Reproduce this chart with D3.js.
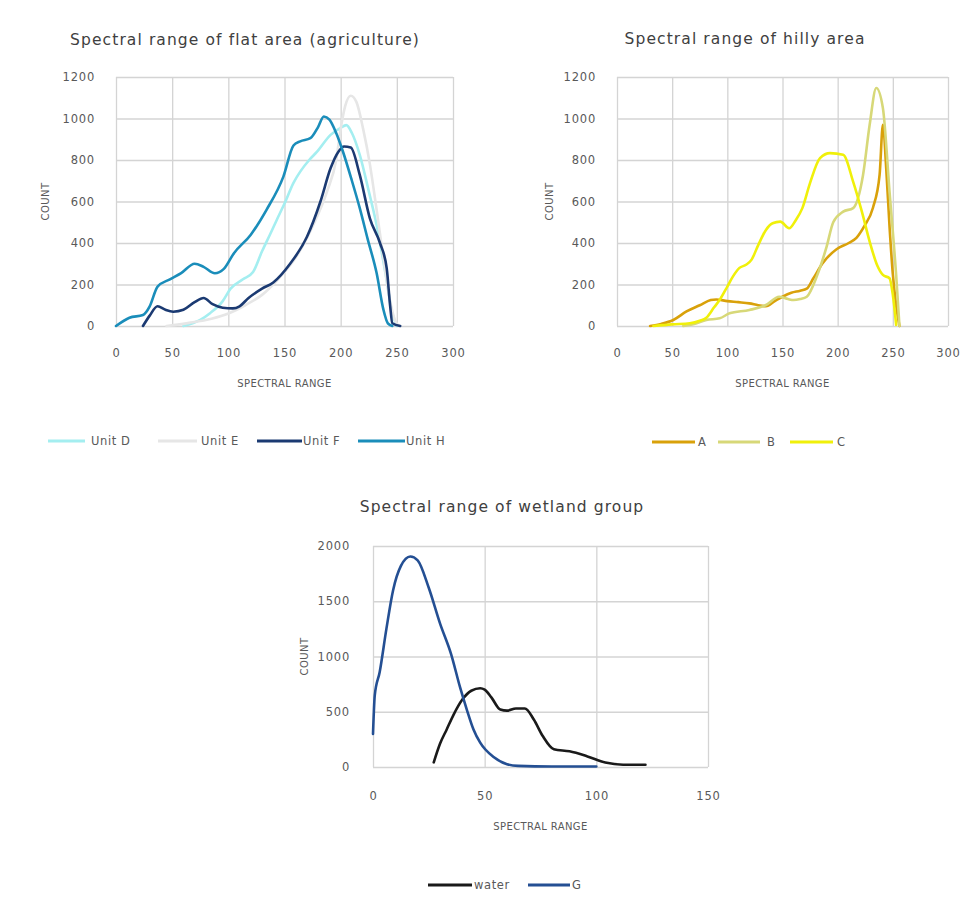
<!DOCTYPE html>
<html>
<head>
<meta charset="utf-8">
<script src="https://cdn.jsdelivr.net/npm/d3@7"></script>
<style>
  html, body { margin: 0; padding: 0; background: #ffffff; }
  svg { display: block; }
  text { font-family: "DejaVu Sans", Verdana, sans-serif; }
</style>
</head>
<body>
<svg id="chart" width="977" height="909"></svg>
<script>
// ---- Flat area (agriculture): [spectral value, count]
const unitD = [[60,0],[75,30],[84,63],[95,120],[102,180],[113,225],[122,260],[130,360],[137,440],[143,510],[150,590],[158,690],[164,744],[172,800],[179,840],[191,921],[200,955],[205,968],[210,930],[217,825],[225,650],[232,487],[240,250],[246,60],[250,0]];
const unitE = [[45,0],[65,15],[85,35],[100,60],[115,100],[130,150],[145,230],[160,330],[175,480],[188,650],[196,800],[200,950],[204,1060],[209,1110],[214,1080],[220,950],[226,780],[232,560],[238,330],[244,120],[250,10],[253,0]];
const unitF = [[24,0],[30,50],[37,95],[44,78],[51,69],[60,78],[70,115],[78,135],[86,105],[95,88],[104,85],[110,95],[118,135],[130,180],[140,210],[155,300],[170,430],[182,600],[191,760],[198,840],[203,865],[209,860],[217,728],[226,519],[235,400],[241,278],[244,100],[246,13],[253,0]];
const unitH = [[0,0],[12,40],[24,53],[30,95],[37,190],[48,225],[58,255],[70,300],[78,285],[88,254],[96,275],[105,351],[120,440],[134,560],[149,720],[158,870],[164,890],[173,905],[180,960],[185,1010],[190,995],[196,930],[202,841],[210,700],[217,568],[224,420],[232,255],[238,80],[242,13],[246,0]];

// ---- Hilly area
const hillA = [[30,0],[40,10],[51,29],[63,70],[75,100],[85,125],[90,128],[100,120],[110,115],[120,109],[128,100],[135,95],[143,120],[150,141],[158,160],[166,170],[172,180],[178,230],[186,300],[199,370],[210,400],[217,425],[224,480],[232,570],[238,728],[241,970],[244,760],[247,480],[250,250],[253,100],[256,0]];
const hillB = [[60,0],[70,10],[81,29],[93,37],[102,61],[120,77],[135,101],[147,141],[155,130],[160,125],[166,130],[172,141],[181,238],[190,383],[196,500],[205,551],[214,568],[223,728],[229,970],[235,1147],[241,1050],[247,648],[253,246],[256,0]];
const hillC = [[33,0],[50,8],[66,13],[75,25],[81,40],[88,90],[93,125],[100,190],[105,238],[111,280],[117,295],[122,320],[128,390],[135,463],[141,495],[148,503],[156,471],[162,510],[168,568],[175,690],[184,809],[193,833],[205,825],[214,696],[222,550],[229,407],[236,290],[241,246],[247,230],[250,150],[253,5]];

// ---- Wetland group
const water = [[27.2,42],[30,210],[33,340],[36,470],[40,610],[44,690],[48,712],[50,700],[53,630],[57,520],[60,510],[64,530],[68,530],[72,430],[76,280],[81,160],[88,142],[96,96],[104,40],[112,21],[122,21]];
const groupG = [[0,300],[0.8,650],[3,860],[6,1250],[9,1600],[12.5,1820],[16.7,1905],[20,1870],[25,1620],[30,1300],[35,1020],[39,720],[42,520],[45,340],[48,220],[54,90],[60,25],[65,10],[80,5],[100,5]];

// ---- Axis ticks
const flatXTicks = [0, 50, 100, 150, 200, 250, 300];
const flatYTicks = [0, 200, 400, 600, 800, 1000, 1200];
const wetXTicks = [0, 50, 100, 150];
const wetYTicks = [0, 500, 1000, 1500, 2000];

const svg = d3.select("#chart");
const textColor = "#595959";
const gridColor = "#d4d4d4";

function drawPanel(cfg) {
  const g = svg.append("g");
  const x = d3.scaleLinear().domain([cfg.xTicks[0], cfg.xTicks[cfg.xTicks.length - 1]]).range([cfg.left, cfg.right]);
  const y = d3.scaleLinear().domain([cfg.yTicks[0], cfg.yTicks[cfg.yTicks.length - 1]]).range([cfg.bottom, cfg.top]);

  // gridlines
  g.append("g")
    .attr("transform", `translate(0,${cfg.bottom})`)
    .call(d3.axisBottom(x).tickValues(cfg.xTicks).tickSize(-(cfg.bottom - cfg.top)).tickFormat(""))
    .call(a => a.select(".domain").remove())
    .call(a => a.selectAll("line").attr("stroke", gridColor).attr("stroke-width", 1.3));
  g.append("g")
    .attr("transform", `translate(${cfg.left},0)`)
    .call(d3.axisLeft(y).tickValues(cfg.yTicks).tickSize(-(cfg.right - cfg.left)).tickFormat(""))
    .call(a => a.select(".domain").remove())
    .call(a => a.selectAll("line").attr("stroke", gridColor).attr("stroke-width", 1.3));

  // tick labels
  g.append("g")
    .attr("transform", `translate(0,${cfg.bottom + cfg.xLabelGap})`)
    .call(d3.axisBottom(x).tickValues(cfg.xTicks).tickSize(0).tickFormat(d3.format("d")))
    .call(a => a.select(".domain").remove())
    .call(a => a.selectAll("text").attr("fill", textColor).attr("font-size", 11.5)
      .style("letter-spacing", "0.8px").attr("font-family", "DejaVu Sans"));
  g.append("g")
    .attr("transform", `translate(${cfg.left - cfg.yLabelGap},0)`)
    .call(d3.axisLeft(y).tickValues(cfg.yTicks).tickSize(0).tickFormat(d3.format("d")))
    .call(a => a.select(".domain").remove())
    .call(a => a.selectAll("text").attr("fill", textColor).attr("font-size", 11.5)
      .style("letter-spacing", "0.8px").attr("font-family", "DejaVu Sans"));

  // series
  const line = d3.line().x(d => x(d[0])).y(d => y(d[1])).curve(d3.curveMonotoneX);
  cfg.series.forEach(s => {
    g.append("path")
      .attr("d", line(s.data))
      .attr("fill", "none")
      .attr("stroke", s.color)
      .attr("stroke-width", 2.6)
      .attr("stroke-linejoin", "round")
      .attr("stroke-linecap", "round");
  });

  // titles
  g.append("text")
    .attr("x", cfg.titleX).attr("y", cfg.titleY)
    .attr("text-anchor", "middle")
    .attr("font-size", 15.5).style("letter-spacing", "1.1px")
    .attr("fill", "#404040")
    .text(cfg.title);
  g.append("text")
    .attr("x", (cfg.left + cfg.right) / 2).attr("y", cfg.bottom + cfg.xTitleGap)
    .attr("text-anchor", "middle")
    .attr("font-size", 10).style("letter-spacing", "0.4px")
    .attr("fill", textColor)
    .text("SPECTRAL RANGE");
  g.append("text")
    .attr("transform", `translate(${cfg.countX},${(cfg.top + cfg.bottom) / 2}) rotate(-90)`)
    .attr("text-anchor", "middle")
    .attr("font-size", 10).style("letter-spacing", "0.4px")
    .attr("fill", textColor)
    .text("COUNT");

  // legend
  const leg = g.append("g");
  cfg.series.forEach(s => {
    leg.append("line")
      .attr("x1", s.lx).attr("x2", s.lx + s.lw)
      .attr("y1", cfg.legendY).attr("y2", cfg.legendY)
      .attr("stroke", s.color).attr("stroke-width", 3);
    leg.append("text")
      .attr("x", s.lx + s.lw + s.tg).attr("y", cfg.legendY + 4)
      .attr("font-size", 11.5).style("letter-spacing", "0.6px")
      .attr("fill", textColor)
      .text(s.name);
  });
}

drawPanel({
  title: "Spectral range of flat area (agriculture)", titleX: 245, titleY: 45,
  left: 116, right: 453, top: 77, bottom: 326,
  xTicks: flatXTicks, yTicks: flatYTicks,
  xLabelGap: 20, yLabelGap: 18, xTitleGap: 61, countX: 49, legendY: 441,
  series: [
    { name: "Unit D", data: unitD, color: "#a4eef0", lx: 48, lw: 37, tg: 6 },
    { name: "Unit E", data: unitE, color: "#e6e6e6", lx: 158, lw: 39, tg: 4 },
    { name: "Unit F", data: unitF, color: "#1b3a72", lx: 257, lw: 45, tg: 1 },
    { name: "Unit H", data: unitH, color: "#1a8dba", lx: 358, lw: 47, tg: 1 }
  ]
});

drawPanel({
  title: "Spectral range of hilly area", titleX: 745, titleY: 44,
  left: 617, right: 948, top: 77, bottom: 326,
  xTicks: flatXTicks, yTicks: flatYTicks,
  xLabelGap: 20, yLabelGap: 18, xTitleGap: 61, countX: 553, legendY: 442,
  series: [
    { name: "A", data: hillA, color: "#d9a10a", lx: 652, lw: 43, tg: 3 },
    { name: "B", data: hillB, color: "#d7d878", lx: 718, lw: 42, tg: 7 },
    { name: "C", data: hillC, color: "#f0f00a", lx: 790, lw: 43, tg: 4 }
  ]
});

drawPanel({
  title: "Spectral range of wetland group", titleX: 502, titleY: 512,
  left: 373, right: 708, top: 546, bottom: 767,
  xTicks: wetXTicks, yTicks: wetYTicks,
  xLabelGap: 22, yLabelGap: 20, xTitleGap: 63, countX: 308, legendY: 885,
  series: [
    { name: "water", data: water, color: "#1a1a1a", lx: 428, lw: 44, tg: 2 },
    { name: "G", data: groupG, color: "#244f93", lx: 528, lw: 42, tg: 2 }
  ]
});
</script>
</body>
</html>
